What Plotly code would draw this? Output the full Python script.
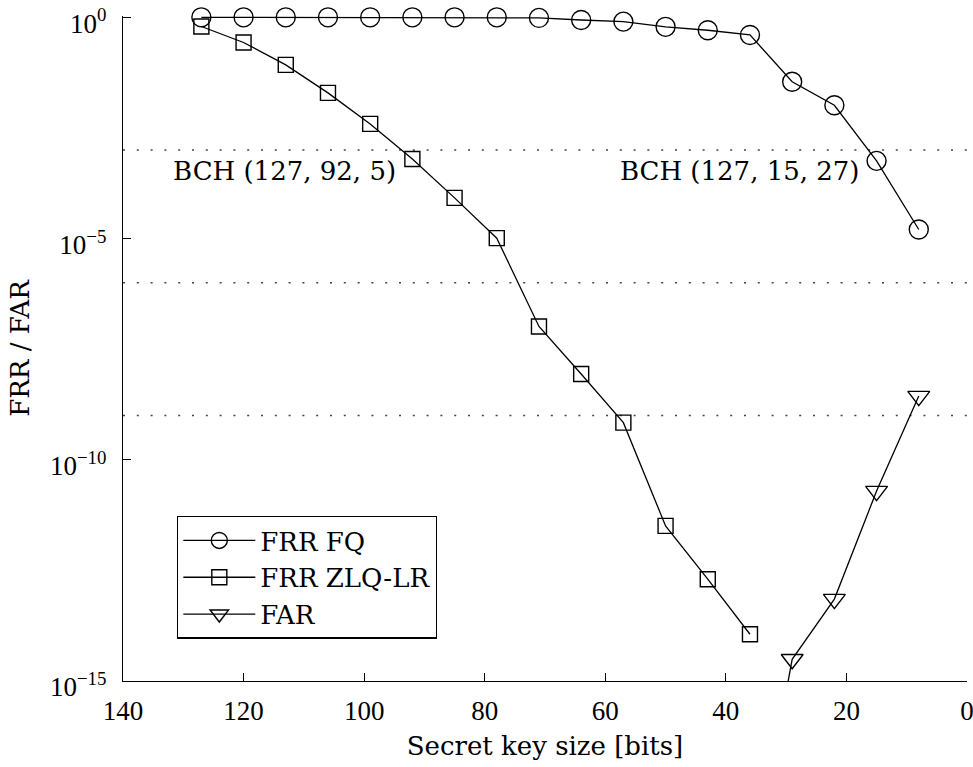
import numpy as np
import plotly.graph_objects as go

# ---- data ----
key_sizes = [127, 120, 113, 106, 99, 92, 85, 78, 71, 64, 57, 50, 43, 36, 29, 22, 15, 8]
frr_fq = [1.0, 1.0, 1.0, 1.0, 1.0, 1.0, 1.0, 1.0, 0.97, 0.87, 0.80, 0.61, 0.51, 0.40,
          0.035, 0.0103, 5.7e-4, 1.6e-5]
zlq_sizes = [127, 120, 113, 106, 99, 92, 85, 78, 71, 64, 57, 50, 43, 36]
frr_zlq = [0.62, 0.27, 0.084, 0.0196, 0.0039, 6.3e-4, 8.3e-5, 1.02e-5, 1.03e-7, 8.7e-9,
           6.9e-10, 3.2e-12, 2.0e-13, 1.14e-14]
far_sizes = [36, 29, 22, 15, 8]
far = [2e-20, 3.1e-15, 7.1e-14, 1.96e-11, 2.75e-9]
thresholds = [1e-3, 1e-6, 1e-9]
bch_labels = ["BCH (127, 92, 5)", "BCH (127, 15, 27)"]
x_ticks = [0, 20, 40, 60, 80, 100, 120, 140]
y_ticks = [1e0, 1e-5, 1e-10, 1e-15]
y_ticktext = ["10<sup>0</sup>", "10<sup>\u22125</sup>", "10<sup>\u221210</sup>", "10<sup>\u221215</sup>"]

FONT = "DejaVu Serif"
TICKFONT = "Liberation Serif"
FS = 26

fig = go.Figure()

# dotted threshold lines
for t in thresholds:
    fig.add_trace(go.Scatter(x=[140, 0], y=[t, t], mode="lines",
                             line=dict(color="#444444", width=1.6, dash="2px,11.8px"),
                             showlegend=False, hoverinfo="skip"))

fig.add_trace(go.Scatter(x=key_sizes, y=frr_fq, mode="lines+markers", name="FRR FQ",
                         line=dict(color="black", width=1.3),
                         marker=dict(symbol="circle-open", size=19, color="black",
                                     line=dict(width=1.4, color="black")),
                         cliponaxis=False))
fig.add_trace(go.Scatter(x=zlq_sizes, y=frr_zlq, mode="lines+markers", name="FRR ZLQ-LR",
                         line=dict(color="black", width=1.3),
                         marker=dict(symbol="square-open", size=15, color="black",
                                     line=dict(width=1.4, color="black")),
                         cliponaxis=False))
fig.add_trace(go.Scatter(x=far_sizes, y=far, mode="lines+markers", name="FAR",
                         line=dict(color="black", width=1.3),
                         marker=dict(symbol="triangle-down-open", size=19, color="black",
                                     line=dict(width=1.4, color="black")),
                         cliponaxis=True))

# BCH labels
fig.add_trace(go.Scatter(x=[113.2, 37.7], y=[10 ** -3.53, 10 ** -3.53], mode="text",
                         text=bch_labels, textposition="middle center",
                         textfont=dict(family=FONT, size=FS, color="black"),
                         showlegend=False, hoverinfo="skip", cliponaxis=False))

fig.update_layout(
    width=973, height=767,
    margin=dict(l=123, r=6, t=15.6, b=86, autoexpand=False),
    paper_bgcolor="white", plot_bgcolor="white",
    font=dict(family=FONT, size=FS, color="black"),
    showlegend=True,
    legend=dict(x=0.064, y=0.2485, xanchor="left", yanchor="top",
                bordercolor="black", borderwidth=1.3, bgcolor="white",
                font=dict(family=FONT, size=FS, color="black"),
                itemwidth=72, tracegroupgap=0),
    xaxis=dict(range=[140, 0], tickvals=x_ticks, ticks="inside", ticklen=8,
               tickwidth=1.2, tickcolor="black", showline=True, linecolor="black",
               linewidth=1.3, showgrid=False, zeroline=False, mirror=False,
               tickfont=dict(family=TICKFONT, size=27, color="black"),
               ticklabelstandoff=5, ticklabeloverflow="allow", automargin=False,
               title=dict(text="Secret key size [bits]", standoff=12,
                          font=dict(family=FONT, size=FS))),
    yaxis=dict(type="log", range=[-15, 0.03], tickvals=y_ticks, ticktext=y_ticktext,
               ticks="inside", ticklen=8, tickwidth=1.2, tickcolor="black",
               showline=True, linecolor="black", linewidth=1.3, showgrid=False,
               zeroline=False, mirror=False, ticklabelstandoff=10,
               ticklabelshift=6,
               tickfont=dict(family=TICKFONT, size=27, color="black"),
               ticklabeloverflow="allow", automargin=False,
               title=dict(text="FRR / FAR", standoff=12,
                          font=dict(family=FONT, size=FS))),
)

fig.write_html("out.html")
